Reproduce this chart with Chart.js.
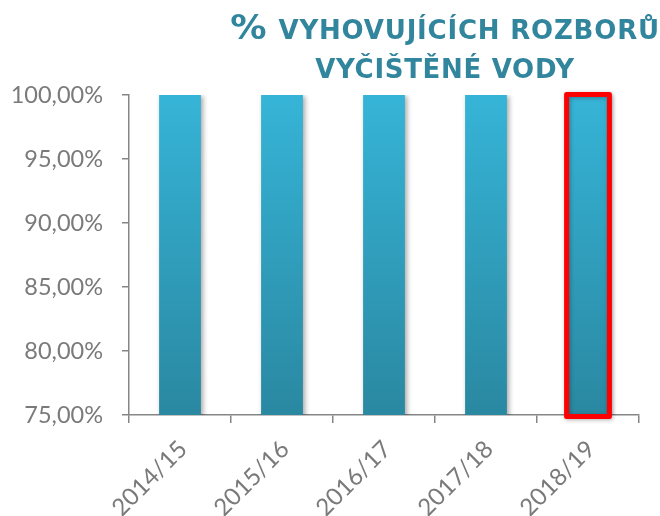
<!DOCTYPE html>
<html>
<head>
<meta charset="utf-8">
<script src="https://cdn.jsdelivr.net/npm/chart.js@4"></script>
<style>
html,body{margin:0;padding:0;background:#fff;}
#wrap{width:660px;height:516px;position:relative;}
</style>
</head>
<body>
<div id="wrap"><canvas id="c" width="660" height="516"></canvas></div>
<script>
const categories = ["2014/15", "2015/16", "2016/17", "2017/18", "2018/19"];
const values = [100, 100, 100, 100, 100];
const yTicks = [75, 80, 85, 90, 95, 100];
const titleLine1Big = "%";
const titleLine1 = "VYHOVUJÍCÍCH ROZBORŮ";
const titleLine2 = "VYČIŠTĚNÉ VODY";
const highlightIndex = 4;

const TITLE_COLOR = "#31859C";
const AXIS_COLOR = "#868686";
const LABEL_COLOR = "#7a7a7a";

function fmt(v){ return v.toFixed(2).replace('.', ',') + '%'; }

const titlePlugin = {
  id: 'customTitle',
  afterDraw(chart){
    const ctx = chart.ctx;
    ctx.save();
    ctx.fillStyle = TITLE_COLOR;
    ctx.textBaseline = 'alphabetic';
    ctx.textAlign = 'left';
    const cx = 445;
    const bigFont = 'bold 33px "DejaVu Sans"';
    const smFont = 'bold 26px "DejaVu Sans"';
    const sx = 1.1;
    ctx.letterSpacing = '0px';
    ctx.font = bigFont;
    const w1 = ctx.measureText(titleLine1Big).width * sx + 12;
    ctx.font = smFont;
    ctx.letterSpacing = '0.8px';
    const w2 = ctx.measureText(titleLine1).width;
    let x = cx - (w1 + w2) / 2;
    ctx.letterSpacing = '0px';
    ctx.font = bigFont;
    ctx.save();
    ctx.translate(x, 39);
    ctx.scale(sx, 1);
    ctx.fillText(titleLine1Big, 0, 0);
    ctx.restore();
    ctx.font = smFont;
    ctx.letterSpacing = '0.8px';
    ctx.fillText(titleLine1, x + w1, 39);
    ctx.letterSpacing = '0.7px';
    const w3 = ctx.measureText(titleLine2).width;
    ctx.fillText(titleLine2, cx - w3 / 2, 78);
    ctx.restore();
  }
};

const shadowPlugin = {
  id: 'barShadow',
  beforeDatasetDraw(chart){
    const ctx = chart.ctx;
    ctx.save();
    ctx.shadowColor = 'rgba(0,0,0,0.35)';
    ctx.shadowBlur = 5;
    ctx.shadowOffsetX = 2;
    ctx.shadowOffsetY = 1;
  },
  afterDatasetDraw(chart){
    chart.ctx.restore();
  },
  afterDatasetsDraw(chart){
    const meta = chart.getDatasetMeta(0);
    const bar = meta.data[highlightIndex];
    if (!bar) return;
    const p = bar.getProps(['x','y','base','width'], true);
    const bottom = Math.min(p.base, chart.chartArea.bottom);
    const ctx = chart.ctx;
    ctx.save();
    ctx.strokeStyle = '#FF0000';
    ctx.lineWidth = 5;
    ctx.lineJoin = 'round';
    ctx.shadowColor = 'rgba(0,0,0,0.3)';
    ctx.shadowBlur = 4;
    ctx.shadowOffsetX = 1;
    ctx.shadowOffsetY = 1;
    const pad = 0.5;
    ctx.strokeRect(p.x - p.width/2 - pad, p.y - pad, p.width + 2*pad, bottom - p.y + 2*pad + 1);
    ctx.restore();
  }
};

const ctx = document.getElementById('c').getContext('2d');
new Chart(ctx, {
  type: 'bar',
  data: {
    labels: categories,
    datasets: [{
      data: values,
      backgroundColor: (c) => {
        const area = c.chart.chartArea;
        if (!area) return '#31a0bf';
        const g = c.chart.ctx.createLinearGradient(0, area.top, 0, area.bottom);
        g.addColorStop(0, '#36B4D7');
        g.addColorStop(1, '#2A88A1');
        return g;
      },
      borderWidth: 0,
      barPercentage: 0.41,
      categoryPercentage: 1.0
    }]
  },
  options: {
    responsive: false,
    animation: false,
    devicePixelRatio: 1,
    layout: { padding: { top: 95, right: 21, left: 0, bottom: 0 } },
    plugins: {
      legend: { display: false },
      tooltip: { enabled: false },
      title: { display: false }
    },
    scales: {
      y: {
        min: 75, max: 100,
        afterBuildTicks(scale){ scale.ticks = yTicks.map(v => ({ value: v })); },
        afterFit(scale){ scale.width = 129; },
        ticks: {
          callback: (v) => fmt(v),
          color: LABEL_COLOR,
          font: { family: 'Lato', size: 23.5 },
          padding: 19
        },
        grid: {
          display: true,
          drawOnChartArea: false,
          drawTicks: true,
          tickLength: 7,
          color: AXIS_COLOR,
          lineWidth: 1.5
        },
        border: { display: true, color: AXIS_COLOR, width: 1.5 }
      },
      x: {
        afterFit(scale){ scale.height = 101; },
        ticks: {
          color: LABEL_COLOR,
          font: { family: 'Lato', size: 24 },
          minRotation: 45,
          maxRotation: 45,
          padding: 12,
          labelOffset: 3
        },
        grid: {
          display: true,
          offset: true,
          drawOnChartArea: false,
          drawTicks: true,
          tickLength: 8,
          color: AXIS_COLOR,
          lineWidth: 1.5
        },
        border: { display: true, color: AXIS_COLOR, width: 1.5 }
      }
    }
  },
  plugins: [titlePlugin, shadowPlugin]
});
</script>
</body>
</html>
